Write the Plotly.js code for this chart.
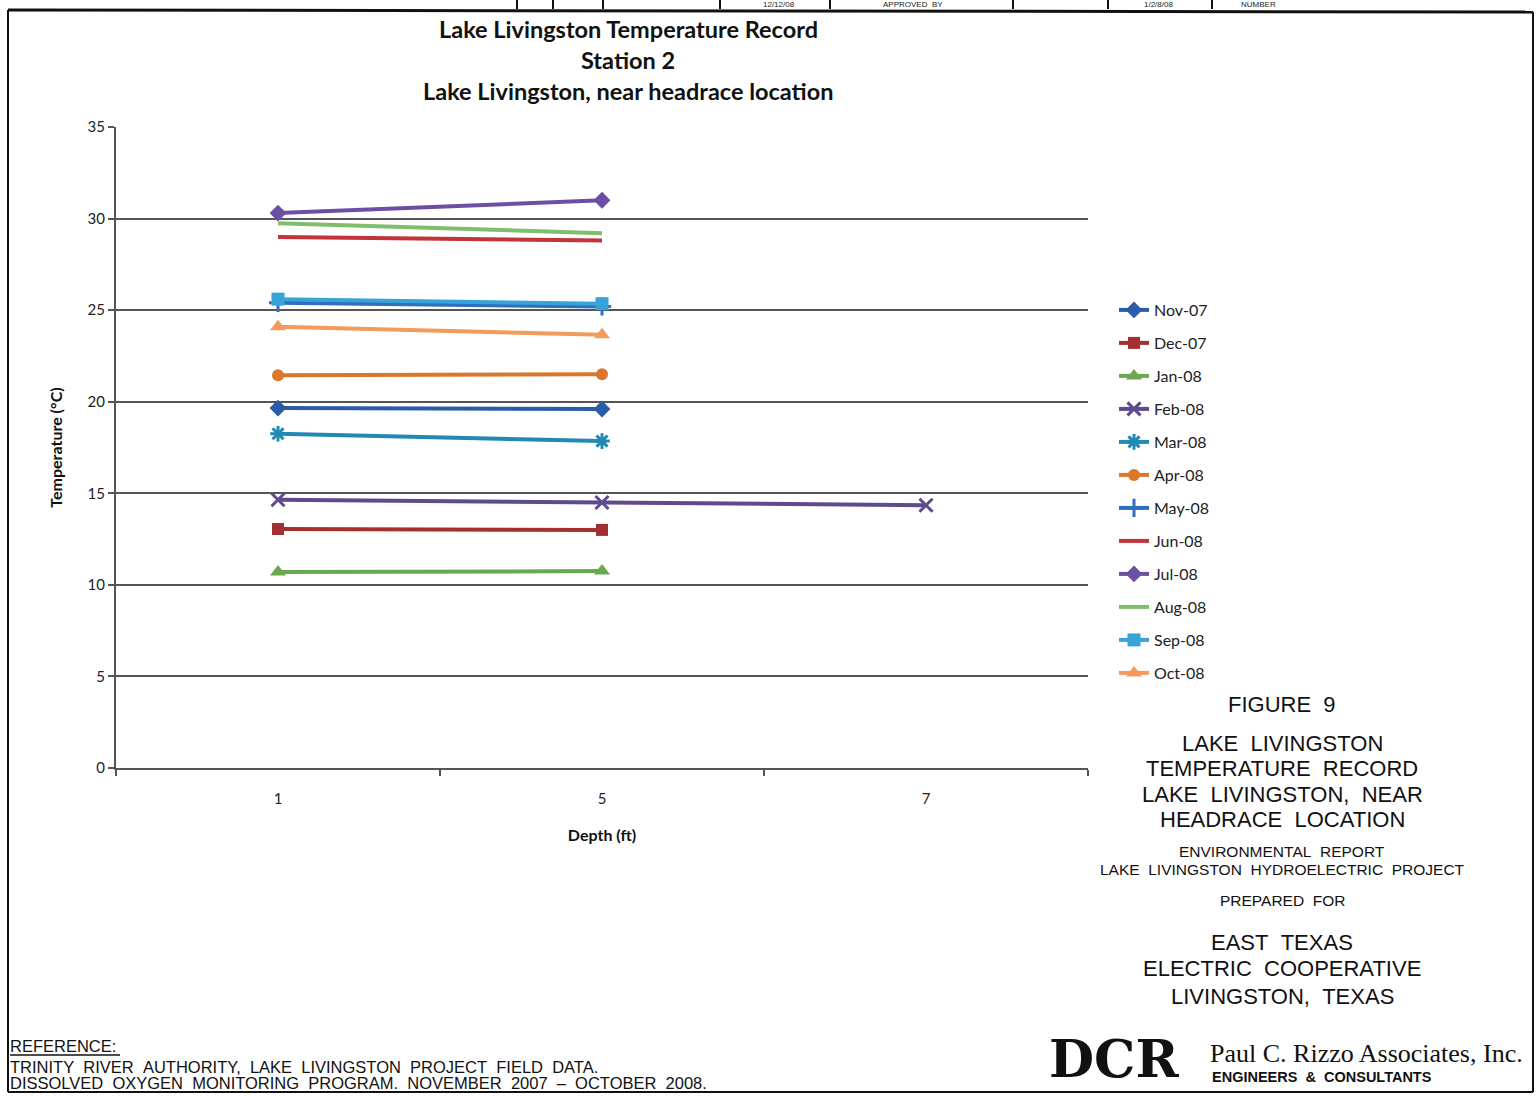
<!DOCTYPE html>
<html><head><meta charset="utf-8">
<script src="https://cdn.plot.ly/plotly-3.0.1.min.js"></script>
<style>html,body{margin:0;padding:0;background:#fff;}#chart{width:1539px;height:1096px;}</style>
</head><body><div id="chart"></div>
<script>
// Data
const depths = ["1", "5", "7"];
const months = ["Nov-07","Dec-07","Jan-08","Feb-08","Mar-08","Apr-08","May-08","Jun-08","Jul-08","Aug-08","Sep-08","Oct-08"];
const nov07 = [19.65, 19.6];
const dec07 = [13.05, 13.0];
const jan08 = [10.7, 10.75];
const feb08 = [14.65, 14.5, 14.35];
const mar08 = [18.25, 17.85];
const apr08 = [21.45, 21.5];
const may08 = [25.4, 25.2];
const jun08 = [29.0, 28.8];
const jul08 = [30.3, 31.0];
const aug08 = [29.75, 29.2];
const sep08 = [25.6, 25.35];
const oct08 = [24.1, 23.65];
const yTicks = [0,5,10,15,20,25,30,35];

const seriesVals = [nov07,dec07,jan08,feb08,mar08,apr08,may08,jun08,jul08,aug08,sep08,oct08];
const colors = ["#2a5ca8","#a3302f","#6aa84f","#5e4a8c","#2289b3","#d9782d","#2f6fbd","#c2343a","#6c4fa3","#7fbf6b","#38a3d9","#f39a5c"];
const symbols = ["diamond","square","triangle-up","x-thin-open","asterisk-open","circle","cross-thin-open",null,"diamond",null,"square","triangle-up"];
const msize = [13,12,14,13,13,12,13,0,13,0,13,14];

const traces = months.map((m,i)=>{
  const t = {
    type:"scatter", name:m, legendgroup:"g"+i,
    x: depths.slice(0, seriesVals[i].length), y: seriesVals[i],
    mode: symbols[i] ? "lines+markers" : "lines",
    line:{color:colors[i], width:4},
    hoverinfo:"skip"
  };
  if (symbols[i]) {
    const open = symbols[i].indexOf("open")>=0;
    t.marker = {symbol:symbols[i], size: msize[i], color:colors[i], line:{color:colors[i], width: open?3:0}};
  }
  return t;
});

// pixel helpers
const L=116, R=1088, T=127, B=768;
const px = x => (x-L)/(R-L);
const py = y => (B-y)/(B-T);

const ann = [];
const chartFont = "Lato, 'Open Sans', sans-serif";
const title = ["Lake Livingston Temperature Record","Station 2","Lake Livingston, near headrace location"];
const titleY = [29, 60, 91];
title.forEach((s,i)=>ann.push({xref:"paper",yref:"paper",x:px(628),y:py(titleY[i]),text:"<b>"+s+"</b>",showarrow:false,font:{family:chartFont,size:23.5,color:"#111"},xanchor:"center",yanchor:"middle",borderpad:0}));

const cad = "'Liberation Sans',Arial,sans-serif";
const sp = s => s.replace(/  /g,"&nbsp;&nbsp;");
const block = [
  ["FIGURE  9",704,22],
  ["LAKE  LIVINGSTON",743,22],
  ["TEMPERATURE  RECORD",768,22],
  ["LAKE  LIVINGSTON,  NEAR",794,22],
  ["HEADRACE  LOCATION",819,22],
  ["ENVIRONMENTAL  REPORT",851,15.5],
  ["LAKE  LIVINGSTON  HYDROELECTRIC  PROJECT",869,15.5],
  ["PREPARED  FOR",900,15.5],
  ["EAST  TEXAS",942,22],
  ["ELECTRIC  COOPERATIVE",968,22],
  ["LIVINGSTON,  TEXAS",996,22]
];
block.forEach(b=>ann.push({xref:"paper",yref:"paper",x:px(1282),y:py(b[1]),text:sp(b[0]),showarrow:false,font:{family:cad,size:b[2],color:"#111"},xanchor:"center",yanchor:"middle",borderpad:0}));

const refs = [["REFERENCE:",1046],["TRINITY  RIVER  AUTHORITY,  LAKE  LIVINGSTON  PROJECT  FIELD  DATA.",1067],["DISSOLVED  OXYGEN  MONITORING  PROGRAM.  NOVEMBER  2007  –  OCTOBER  2008.",1083]];
refs.forEach(r=>ann.push({xref:"paper",yref:"paper",x:px(9),y:py(r[1]),text:sp(r[0]),showarrow:false,font:{family:cad,size:16.5,color:"#111"},xanchor:"left",yanchor:"middle",borderpad:0}));

ann.push({xref:"paper",yref:"paper",x:px(1209),y:py(1053),text:"Paul C. Rizzo Associates, Inc.",showarrow:false,font:{family:"'Liberation Serif','DejaVu Serif',serif",size:26,color:"#111"},xanchor:"left",yanchor:"middle",borderpad:0});
ann.push({xref:"paper",yref:"paper",x:px(1211),y:py(1077),text:sp("<b>ENGINEERS  &amp;  CONSULTANTS</b>"),showarrow:false,font:{family:"'Liberation Sans',sans-serif",size:14.5,color:"#111"},xanchor:"left",yanchor:"middle",borderpad:0});
ann.push({xref:"paper",yref:"paper",x:px(1114),y:py(1058),text:"<b>DCR</b>",showarrow:false,font:{family:"'DejaVu Serif','Liberation Serif',serif",size:52,color:"#111"},xanchor:"center",yanchor:"middle",borderpad:0});

// Top title-block remnants (small, inside the strip)
[["12/12/08",779],["APPROVED  BY",913],["1/2/8/08",1158],["NUMBER",1258]].forEach(s=>ann.push({xref:"paper",yref:"paper",x:px(s[1]),y:py(4.5),text:sp(s[0]),showarrow:false,font:{family:cad,size:8,color:"#222"},xanchor:"center",yanchor:"middle",borderpad:0}));

const shapes = [];
const line = (x0,y0,x1,y1,w,c)=>shapes.push({type:"line",xref:"paper",yref:"paper",x0:px(x0),y0:py(y0),x1:px(x1),y1:py(y1),line:{color:c||"#111",width:w||2}});
line(8,10,1533,12,3);      // top frame
line(8,10,8,1092,2);       // left frame
line(1533,12,1533,1092,2); // right frame
line(8,1092,1533,1092,2);  // bottom frame
line(10,1055,120,1055,1.5); // underline REFERENCE
[517,553,603,720,830,1013,1108,1212].forEach(x=>line(x,0,x,9,2));

const layout = {
  width:1539, height:1096,
  margin:{l:L, r:1539-R, t:T, b:1096-B, pad:0},
  paper_bgcolor:"#fff", plot_bgcolor:"#fff",
  showlegend:true,
  legend:{x:px(1114), y:py(293), xanchor:"left", yanchor:"top", tracegroupgap:9.2, font:{family:chartFont,size:16,color:"#222"}, bgcolor:"rgba(0,0,0,0)", itemwidth:30},
  xaxis:{type:"category", categoryorder:"array", categoryarray:depths, range:[-0.5,2.5], showgrid:false, zeroline:false,
    showline:true, linecolor:"#555", linewidth:2, ticks:"outside", tickson:"boundaries", ticklen:6, tickwidth:2, tickcolor:"#555",
    ticklabelstandoff:16, tickfont:{family:chartFont,size:15,color:"#222"},
    title:{text:"<b>Depth (ft)</b>", font:{family:chartFont,size:16,color:"#111"}, standoff:24}},
  yaxis:{range:[0,35], tickvals:yTicks, ticktext:yTicks.map(String), showgrid:true, gridcolor:"#555", gridwidth:2, zeroline:false,
    showline:true, linecolor:"#555", linewidth:2, ticks:"outside", ticklen:6, tickwidth:2, tickcolor:"#555",
    tickfont:{family:chartFont,size:15,color:"#222"},
    title:{text:"<b>Temperature (°C)</b>", font:{family:chartFont,size:16,color:"#111"}, standoff:21}},
  annotations:ann, shapes:shapes
};
Plotly.newPlot("chart", traces, layout, {displayModeBar:false, staticPlot:true});
</script></body></html>
